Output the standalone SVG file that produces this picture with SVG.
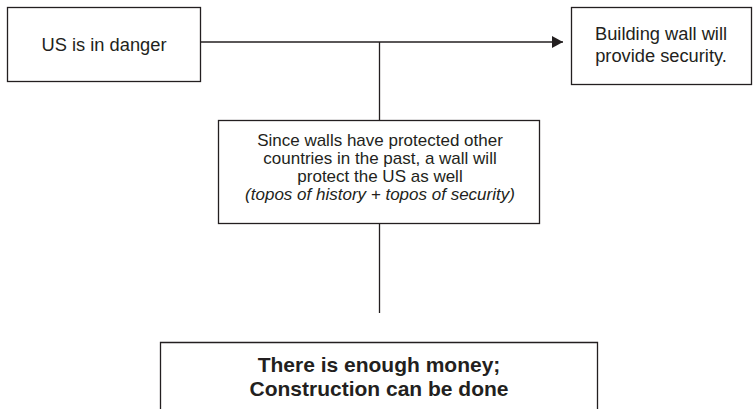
<svg xmlns="http://www.w3.org/2000/svg" width="753" height="409" viewBox="0 0 753 409">
<style>
.box{fill:#fff;stroke:#231f20;stroke-width:1.3}
.ln{fill:none;stroke:#231f20;stroke-width:1.3}
.t{font-family:"Liberation Sans",Arial,sans-serif;fill:#231f20;text-anchor:middle}
.r{font-size:18.3px}
.m{font-size:17px}
.i{font-style:italic}
.b{font-size:21px;font-weight:bold}
</style>
<defs>
<marker id="ah" markerWidth="11" markerHeight="12" refX="11" refY="6" orient="auto" markerUnits="userSpaceOnUse">
<path d="M0,0 L11,6 L0,12 Z" fill="#231f20"/>
</marker>
</defs>
<g id="connectors">
<line class="ln" x1="200" y1="42" x2="563" y2="42" marker-end="url(#ah)"/>
<line class="ln" x1="379.5" y1="42" x2="379.5" y2="120.5"/>
<line class="ln" x1="379.5" y1="223.5" x2="379.5" y2="313"/>
</g>
<g id="node-danger">
<rect class="box" x="7.5" y="7.5" width="193" height="74"/>
<text class="t r" x="104" y="51">US is in danger</text>
</g>
<g id="node-security">
<rect class="box" x="571.5" y="7.5" width="180" height="77"/>
<text class="t r" x="661" y="40">Building wall will</text>
<text class="t r" x="661" y="62">provide security.</text>
</g>
<g id="node-warrant">
<rect class="box" x="218.5" y="120.5" width="321" height="103"/>
<text class="t m" x="380" y="146">Since walls have protected other</text>
<text class="t m" x="380" y="164">countries in the past, a wall will</text>
<text class="t m" x="380" y="182">protect the US as well</text>
<text class="t m i" x="380" y="200">(topos of history + topos of security)</text>
</g>
<g id="node-backing">
<path class="ln" d="M160.5,412 V342.5 H597.5 V412"/>
<text class="t b" x="379" y="372">There is enough money;</text>
<text class="t b" x="379" y="396">Construction can be done</text>
</g>
</svg>
